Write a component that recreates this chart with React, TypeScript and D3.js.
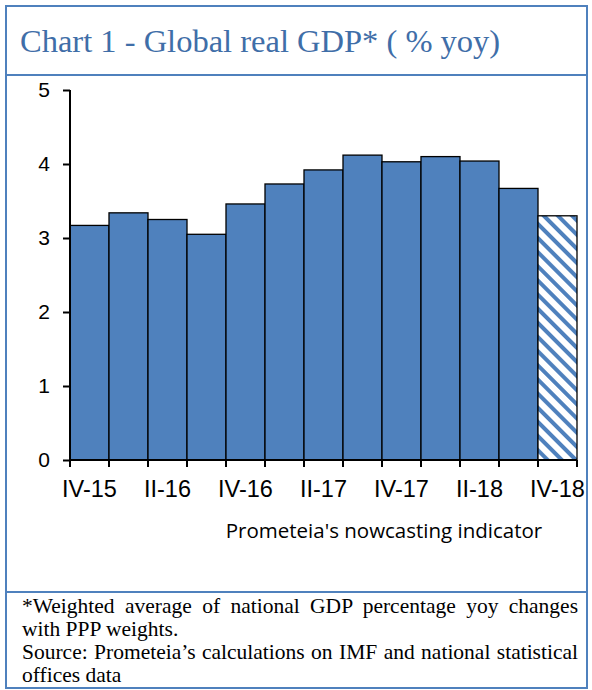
import React, { useRef, useEffect } from 'react'
import * as d3 from 'd3'

const quarters = ['IV-15', 'I-16', 'II-16', 'III-16', 'IV-16', 'I-17', 'II-17', 'III-17', 'IV-17', 'I-18', 'II-18', 'III-18', 'IV-18']
const gdp = [3.17, 3.34, 3.25, 3.05, 3.46, 3.73, 3.92, 4.12, 4.03, 4.1, 4.04, 3.67, 3.3]
const nowcast = ['IV-18']
const yTicks = [0, 1, 2, 3, 4, 5]
const shownLabels = ['IV-15', 'II-16', 'IV-16', 'II-17', 'IV-17', 'II-18', 'IV-18']

const W = 592
const H = 690
const blue = '#4f81bd'

export default function App() {
	const svgRef = useRef<SVGSVGElement>(null)

	useEffect(() => {
		const svg = d3.select(svgRef.current)
		svg.selectAll('*').remove()

		const defs = svg.append('defs')
		const pat = defs
			.append('pattern')
			.attr('id', 'hatch')
			.attr('patternUnits', 'userSpaceOnUse')
			.attr('width', 10)
			.attr('height', 10)
			.attr('patternTransform', 'rotate(-45)')
		pat.append('rect').attr('width', 10).attr('height', 10).attr('fill', '#fff')
		pat.append('rect').attr('width', 4).attr('height', 10).attr('fill', blue)

		// frame
		svg
			.append('rect')
			.attr('x', 6)
			.attr('y', 6)
			.attr('width', 581)
			.attr('height', 682)
			.attr('fill', 'none')
			.attr('stroke', blue)
			.attr('stroke-width', 2)
		svg.append('line').attr('x1', 6).attr('x2', 587).attr('y1', 75).attr('y2', 75).attr('stroke', blue).attr('stroke-width', 2)
		svg.append('line').attr('x1', 6).attr('x2', 587).attr('y1', 592).attr('y2', 592).attr('stroke', blue).attr('stroke-width', 2)

		svg
			.append('text')
			.attr('x', 20)
			.attr('y', 52)
			.attr('font-family', '"Liberation Serif", "Times New Roman", serif')
			.attr('font-size', 32.5)
			.attr('fill', '#3f6ea8')
			.text('Chart 1 - Global real GDP* ( % yoy)')

		const x = d3.scaleBand<string>().domain(quarters).range([70, 577]).padding(0)
		const y = d3.scaleLinear().domain([0, 5]).range([460, 90])

		const g = svg.append('g')
		g.selectAll('.bar')
			.data(quarters)
			.join('rect')
			.attr('class', 'bar')
			.attr('x', (d) => x(d)!)
			.attr('y', (d, i) => y(gdp[i]))
			.attr('width', x.bandwidth())
			.attr('height', (d, i) => y(0) - y(gdp[i]))
			.attr('fill', (d) => (nowcast.includes(d) ? 'url(#hatch)' : blue))
			.attr('stroke', '#000')
			.attr('stroke-width', 1.3)

		// y axis
		const yAxis = d3.axisLeft(y).tickValues(yTicks).tickSize(7).tickPadding(13).tickFormat(d3.format('d'))
		const ya = svg.append('g').attr('transform', 'translate(70,0)').call(yAxis)
		ya.select('.domain').attr('stroke-width', 2).attr('d', `M0,${y(5)}V${y(0)}`)
		ya.selectAll('line').attr('stroke-width', 2)
		ya.selectAll('text').attr('font-family', '"Liberation Sans", Arial, sans-serif').attr('font-size', 21).attr('fill', '#000')

		// x axis
		const xa = svg.append('g').attr('transform', `translate(0,${y(0)})`)
		xa.append('line').attr('x1', 70).attr('x2', 577).attr('stroke', '#000').attr('stroke-width', 2)
		const edges = quarters.map((q) => x(q)!).concat([x(quarters[quarters.length - 1])! + x.bandwidth()])
		xa.selectAll('.tk')
			.data(edges)
			.join('line')
			.attr('class', 'tk')
			.attr('x1', (d) => d)
			.attr('x2', (d) => d)
			.attr('y1', 0)
			.attr('y2', 7)
			.attr('stroke', '#000')
			.attr('stroke-width', 2)
		xa.selectAll('.lbl')
			.data(shownLabels)
			.join('text')
			.attr('class', 'lbl')
			.attr('x', (d) => x(d)! + x.bandwidth() / 2)
			.attr('y', 37)
			.attr('text-anchor', 'middle')
			.attr('font-family', '"Liberation Sans", Arial, sans-serif')
			.attr('font-size', 23.5)
			.text((d) => d)

		svg
			.append('text')
			.attr('x', 384)
			.attr('y', 538)
			.attr('text-anchor', 'middle')
			.attr('font-family', '"Open Sans", "Noto Sans", sans-serif')
			.attr('font-size', 20.5)
			.text("Prometeia's nowcasting indicator")

		// footnote, justified by word spacing
		const notes = [
			{ t: '*Weighted average of national GDP percentage yoy changes', y: 613, just: true },
			{ t: 'with PPP weights.', y: 636, just: false },
			{ t: 'Source: Prometeia\u2019s calculations on IMF and national statistical', y: 659, just: true },
			{ t: 'offices data', y: 682, just: false },
		]
		notes.forEach((n) => {
			const tx = svg
				.append('text')
				.attr('x', 22)
				.attr('y', n.y)
				.attr('font-family', '"Liberation Serif", "Times New Roman", serif')
				.attr('font-size', 21.5)
				.attr('fill', '#000')
				.text(n.t)
			if (n.just) {
				const len = (tx.node() as SVGTextElement).getComputedTextLength()
				const gaps = n.t.split(' ').length - 1
				tx.attr('word-spacing', Math.max(0, (556 - len) / gaps))
			}
		})
	}, [])

	return <svg ref={svgRef} width={W} height={H} style={{ position: 'absolute', left: 0, top: 0, background: '#fff' }} />
}
